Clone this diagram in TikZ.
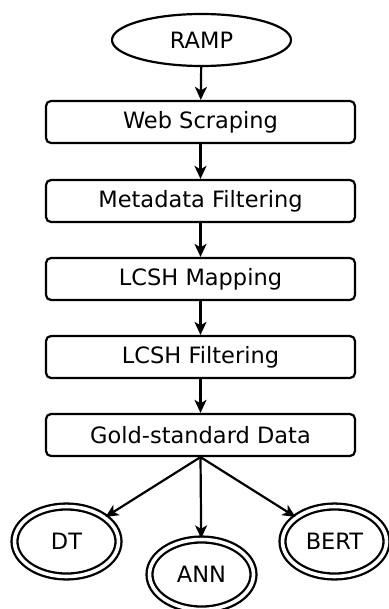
\documentclass[tikz,border=0pt]{standalone}
\usepackage{fontspec}
\setmainfont{DejaVu Sans}
\usetikzlibrary{shapes.geometric,arrows.meta}
\begin{document}
\begin{tikzpicture}[x=1pt,y=-1pt,
  every node/.style={font=\fontsize{22.5}{26}\selectfont},
  stepbox/.style={draw,line width=2.2pt,rounded corners=5pt,minimum width=309pt,minimum height=42pt,inner sep=0pt},
  startnode/.style={draw,ellipse,line width=2.2pt,minimum width=179pt,minimum height=52pt,inner sep=0pt},
  endnode/.style={draw,ellipse,line width=2.3pt,double,double distance=3.6pt,minimum width=104pt,minimum height=70pt,inner sep=0pt},
  arr/.style={line width=2.2pt,-{Stealth[length=13pt,width=12pt,inset=3.5pt]}}]
\useasboundingbox (0,0) rectangle (388,609);
\node[startnode] (ramp) at (201.5,40) {RAMP};
\node[stepbox] (web) at (200.5,122) {Web Scraping};
\node[stepbox] (meta) at (200.5,201) {Metadata Filtering};
\node[stepbox] (map) at (200.5,279) {LCSH Mapping};
\node[stepbox] (filt) at (200.5,357) {LCSH Filtering};
\node[stepbox] (gold) at (200.5,435) {Gold-standard Data};
\node[endnode] (dt) at (66.5,541.5) {DT};
\node[endnode] (ann) at (201.5,574.5) {ANN};
\node[endnode] (bert) at (334.5,541.5) {BERT};
\draw[arr] (ramp) -- (web);
\draw[arr] (web) -- (meta);
\draw[arr] (meta) -- (map);
\draw[arr] (map) -- (filt);
\draw[arr] (filt) -- (gold);
\draw[arr] (gold.south) -- (dt);
\draw[arr] (gold.south) -- (ann);
\draw[arr] (gold.south) -- (bert);
\end{tikzpicture}
\end{document}
